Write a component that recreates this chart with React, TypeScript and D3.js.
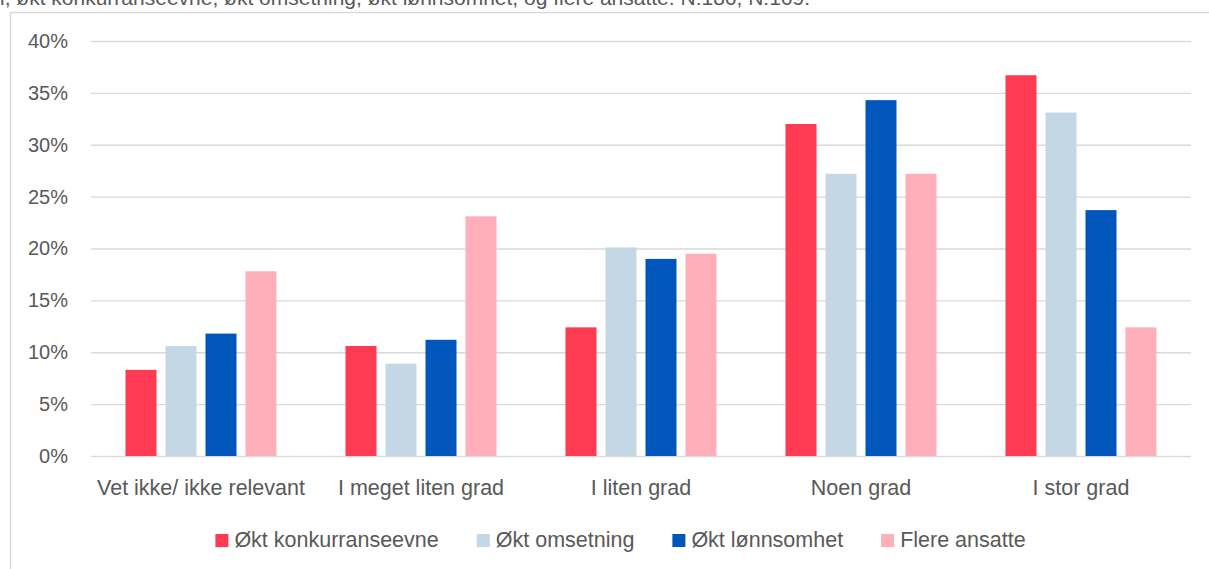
import React, { useRef, useEffect } from 'react';
import { select, scaleBand, scaleLinear, axisLeft, format } from 'd3';

const categories = [
  'Vet ikke/ ikke relevant',
  'I meget liten grad',
  'I liten grad',
  'Noen grad',
  'I stor grad',
];
const seriesNames = ['Økt konkurranseevne', 'Økt omsetning', 'Økt lønnsomhet', 'Flere ansatte'];
const konkurranseevne = [8.3, 10.6, 12.4, 32.0, 36.7];
const omsetning = [10.6, 8.9, 20.1, 27.2, 33.1];
const lonnsomhet = [11.8, 11.2, 19.0, 34.3, 23.7];
const ansatte = [17.8, 23.1, 19.5, 27.2, 12.4];
const yTicks = [0, 5, 10, 15, 20, 25, 30, 35, 40];
const title =
  'i, økt konkurranseevne, økt omsetning, økt lønnsomhet, og flere ansatte. N:186, N:169.';

const colors = ['#FF3B53', '#C3D7E4', '#0056BB', '#FFAFB9'];
const textColor = '#595959';
const gridColor = '#d9d9d9';
const font = '"Liberation Sans", Arial, sans-serif';

export default function App() {
  const svgRef = useRef(null);

  useEffect(() => {
    const width = 1209;
    const height = 569;
    const margin = { top: 41, left: 91, right: 18, bottom: 113 };
    const svg = select(svgRef.current);
    svg.selectAll('*').remove();

    const values = [konkurranseevne, omsetning, lonnsomhet, ansatte];

    // frame + title (cut at top, as in the source)
    svg
      .append('rect')
      .attr('x', 10.5)
      .attr('y', 12.5)
      .attr('width', width + 20)
      .attr('height', height + 20)
      .attr('fill', 'white')
      .attr('stroke', gridColor)
      .attr('stroke-width', 1.5);

    svg
      .append('text')
      .attr('x', 0)
      .attr('y', 5)
      .attr('font-family', font)
      .attr('font-size', 21)
      .attr('fill', textColor)
      .text(title);

    const x = scaleBand<string>()
      .domain(categories)
      .range([margin.left, width - margin.right]);
    const step = x.bandwidth();
    const xInner = scaleBand<string>()
      .domain(seriesNames)
      .range([step / 2 - 80, step / 2 + 80])
      .paddingInner(0.225)
      .paddingOuter(0.1125);
    const y = scaleLinear()
      .domain([0, 40])
      .range([height - margin.bottom, margin.top]);

    // grid + y labels
    const yAxis = axisLeft(y)
      .tickValues(yTicks)
      .tickSize(-(width - margin.right - margin.left))
      .tickPadding(23)
      .tickFormat(d => format('d')(d as number) + '%');
    const gy = svg
      .append('g')
      .attr('transform', `translate(${margin.left},0)`)
      .call(yAxis);
    gy.select('.domain').remove();
    gy.selectAll('.tick line').attr('stroke', gridColor).attr('stroke-width', 1.3);
    gy.selectAll('.tick text')
      .attr('font-family', font)
      .attr('font-size', 20)
      .attr('fill', textColor);

    // bars
    const groups = svg
      .append('g')
      .selectAll('g')
      .data(categories)
      .join('g')
      .attr('transform', d => `translate(${x(d)},0)`);

    groups
      .selectAll('rect')
      .data((_, i) => seriesNames.map((s, j) => ({ s, j, v: values[j][i] })))
      .join('rect')
      .attr('x', d => xInner(d.s)!)
      .attr('width', xInner.bandwidth())
      .attr('y', d => y(d.v))
      .attr('height', d => y(0) - y(d.v))
      .attr('fill', d => colors[d.j]);

    // x labels
    svg
      .append('g')
      .selectAll('text')
      .data(categories)
      .join('text')
      .attr('x', d => x(d)! + step / 2)
      .attr('y', 495)
      .attr('text-anchor', 'middle')
      .attr('font-family', font)
      .attr('font-size', 21.5)
      .attr('fill', textColor)
      .text(d => d);

    // legend, measured and centred
    const legend = svg.append('g');
    const items = legend
      .selectAll('g')
      .data(seriesNames)
      .join('g');
    items
      .append('rect')
      .attr('y', 534)
      .attr('width', 13)
      .attr('height', 13)
      .attr('fill', (_, i) => colors[i]);
    items
      .append('text')
      .attr('x', 19)
      .attr('y', 547)
      .attr('font-family', font)
      .attr('font-size', 21.5)
      .attr('fill', textColor)
      .text(d => d);
    const widths: number[] = [];
    items.each(function () {
      const t = select(this).select('text').node() as SVGTextElement;
      widths.push(19 + t.getComputedTextLength());
    });
    const gap = 38;
    const total = widths.reduce((a, b) => a + b, 0) + gap * (widths.length - 1);
    let cx = 620.5 - total / 2;
    items.attr('transform', (_, i) => {
      const tx = cx;
      cx += widths[i] + gap;
      return `translate(${tx},0)`;
    });
  }, []);

  return (
    <div style={{ position: 'absolute', left: 0, top: 0 }}>
      <svg ref={svgRef} width={1209} height={569} style={{ display: 'block' }} />
    </div>
  );
}
